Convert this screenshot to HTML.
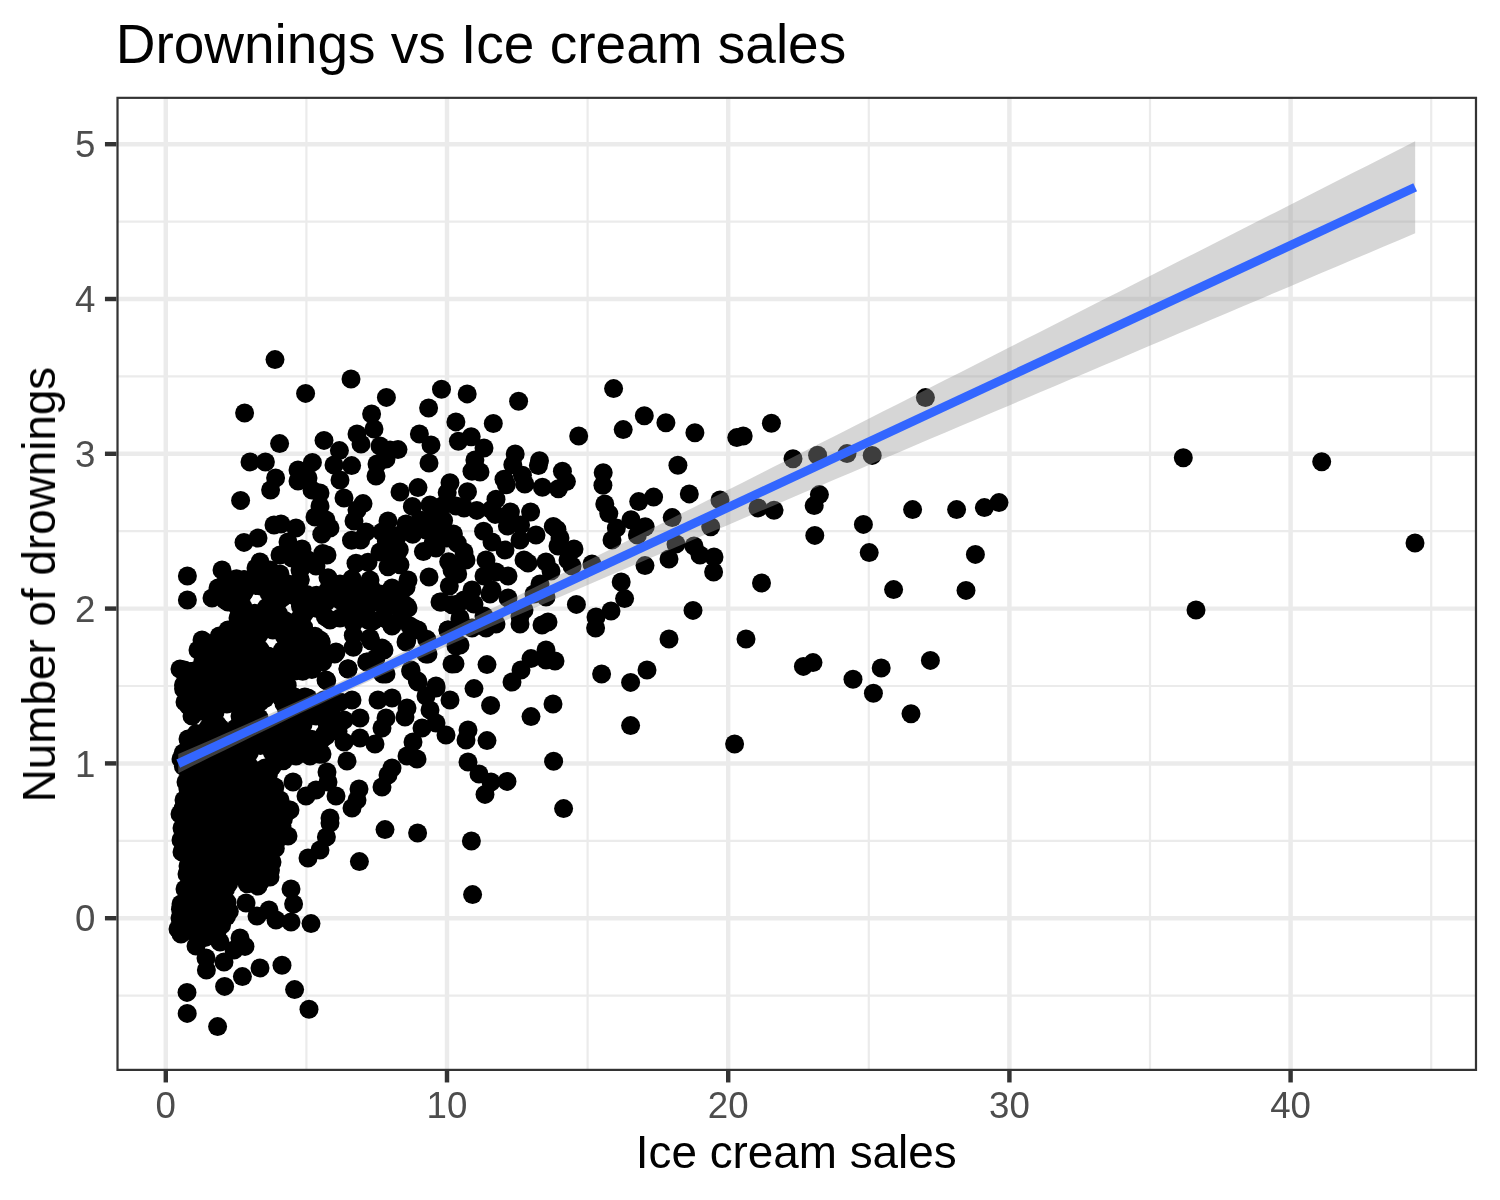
<!DOCTYPE html>
<html lang="en"><head><meta charset="utf-8"><title>Drownings vs Ice cream sales</title>
<style>html,body{margin:0;padding:0;background:#fff}body{width:1500px;height:1200px;overflow:hidden}svg{display:block}text{font-family:"Liberation Sans",Arial,Helvetica,sans-serif}</style></head><body>
<svg width="1500" height="1200" viewBox="0 0 1500 1200">
<rect width="1500" height="1200" fill="#fff"/>
<defs><clipPath id="p"><rect x="116.40" y="96.70" width="1360.70" height="974.30"/></clipPath></defs>
<g clip-path="url(#p)">
<g stroke="#ebebeb" stroke-width="2.2" fill="none">
<line x1="306.40" x2="306.40" y1="96.70" y2="1071.00"/>
<line x1="587.60" x2="587.60" y1="96.70" y2="1071.00"/>
<line x1="868.80" x2="868.80" y1="96.70" y2="1071.00"/>
<line x1="1150.00" x2="1150.00" y1="96.70" y2="1071.00"/>
<line x1="1431.20" x2="1431.20" y1="96.70" y2="1071.00"/>
<line x1="116.40" x2="1477.10" y1="995.60" y2="995.60"/>
<line x1="116.40" x2="1477.10" y1="840.80" y2="840.80"/>
<line x1="116.40" x2="1477.10" y1="686.00" y2="686.00"/>
<line x1="116.40" x2="1477.10" y1="531.20" y2="531.20"/>
<line x1="116.40" x2="1477.10" y1="376.40" y2="376.40"/>
<line x1="116.40" x2="1477.10" y1="221.60" y2="221.60"/>
</g>
<g stroke="#ebebeb" stroke-width="4.45" fill="none">
<line x1="165.80" x2="165.80" y1="96.70" y2="1071.00"/>
<line x1="447.00" x2="447.00" y1="96.70" y2="1071.00"/>
<line x1="728.20" x2="728.20" y1="96.70" y2="1071.00"/>
<line x1="1009.40" x2="1009.40" y1="96.70" y2="1071.00"/>
<line x1="1290.60" x2="1290.60" y1="96.70" y2="1071.00"/>
<line x1="116.40" x2="1477.10" y1="918.20" y2="918.20"/>
<line x1="116.40" x2="1477.10" y1="763.40" y2="763.40"/>
<line x1="116.40" x2="1477.10" y1="608.60" y2="608.60"/>
<line x1="116.40" x2="1477.10" y1="453.80" y2="453.80"/>
<line x1="116.40" x2="1477.10" y1="299.00" y2="299.00"/>
<line x1="116.40" x2="1477.10" y1="144.20" y2="144.20"/>
</g>
<g fill="#000">
<circle cx="1183.3" cy="457.7" r="9.50"/>
<circle cx="1321.7" cy="461.7" r="9.50"/>
<circle cx="1415.0" cy="543.0" r="9.50"/>
<circle cx="1196.0" cy="610.0" r="9.50"/>
<circle cx="925.4" cy="397.6" r="9.50"/>
<circle cx="771.4" cy="423.2" r="9.50"/>
<circle cx="793.0" cy="458.8" r="9.50"/>
<circle cx="817.6" cy="455.2" r="9.50"/>
<circle cx="847.0" cy="453.6" r="9.50"/>
<circle cx="872.2" cy="455.4" r="9.50"/>
<circle cx="819.4" cy="494.6" r="9.50"/>
<circle cx="814.2" cy="505.6" r="9.50"/>
<circle cx="774.0" cy="510.2" r="9.50"/>
<circle cx="758.0" cy="508.0" r="9.50"/>
<circle cx="912.6" cy="509.6" r="9.50"/>
<circle cx="956.6" cy="509.6" r="9.50"/>
<circle cx="984.4" cy="507.6" r="9.50"/>
<circle cx="999.0" cy="502.6" r="9.50"/>
<circle cx="863.4" cy="524.4" r="9.50"/>
<circle cx="814.8" cy="535.4" r="9.50"/>
<circle cx="869.2" cy="552.6" r="9.50"/>
<circle cx="975.4" cy="554.4" r="9.50"/>
<circle cx="761.5" cy="583.0" r="9.50"/>
<circle cx="893.6" cy="589.6" r="9.50"/>
<circle cx="966.0" cy="590.4" r="9.50"/>
<circle cx="803.4" cy="666.4" r="9.50"/>
<circle cx="813.0" cy="662.6" r="9.50"/>
<circle cx="853.0" cy="679.2" r="9.50"/>
<circle cx="881.2" cy="668.0" r="9.50"/>
<circle cx="930.4" cy="660.4" r="9.50"/>
<circle cx="873.4" cy="693.2" r="9.50"/>
<circle cx="911.0" cy="713.8" r="9.50"/>
<circle cx="613.6" cy="388.6" r="9.50"/>
<circle cx="644.3" cy="415.7" r="9.50"/>
<circle cx="623.2" cy="429.6" r="9.50"/>
<circle cx="665.9" cy="422.7" r="9.50"/>
<circle cx="578.7" cy="436.0" r="9.50"/>
<circle cx="694.9" cy="432.8" r="9.50"/>
<circle cx="736.8" cy="437.6" r="9.50"/>
<circle cx="743.2" cy="436.0" r="9.50"/>
<circle cx="677.9" cy="465.3" r="9.50"/>
<circle cx="603.2" cy="472.8" r="9.50"/>
<circle cx="602.9" cy="485.3" r="9.50"/>
<circle cx="562.4" cy="471.2" r="9.50"/>
<circle cx="566.4" cy="481.6" r="9.50"/>
<circle cx="558.4" cy="488.8" r="9.50"/>
<circle cx="689.3" cy="493.9" r="9.50"/>
<circle cx="653.6" cy="497.1" r="9.50"/>
<circle cx="638.7" cy="501.6" r="9.50"/>
<circle cx="720.0" cy="500.0" r="9.50"/>
<circle cx="604.8" cy="504.0" r="9.50"/>
<circle cx="608.8" cy="513.6" r="9.50"/>
<circle cx="631.0" cy="519.8" r="9.50"/>
<circle cx="672.2" cy="517.6" r="9.50"/>
<circle cx="616.4" cy="528.1" r="9.50"/>
<circle cx="645.2" cy="526.8" r="9.50"/>
<circle cx="710.7" cy="526.7" r="9.50"/>
<circle cx="637.4" cy="535.0" r="9.50"/>
<circle cx="557.0" cy="529.4" r="9.50"/>
<circle cx="441.5" cy="389.2" r="9.50"/>
<circle cx="467.2" cy="393.9" r="9.50"/>
<circle cx="518.6" cy="401.3" r="9.50"/>
<circle cx="455.9" cy="421.9" r="9.50"/>
<circle cx="493.3" cy="423.5" r="9.50"/>
<circle cx="471.2" cy="436.8" r="9.50"/>
<circle cx="458.4" cy="441.3" r="9.50"/>
<circle cx="484.0" cy="448.0" r="9.50"/>
<circle cx="474.9" cy="460.0" r="9.50"/>
<circle cx="472.0" cy="471.2" r="9.50"/>
<circle cx="480.0" cy="472.0" r="9.50"/>
<circle cx="515.2" cy="453.9" r="9.50"/>
<circle cx="512.8" cy="464.8" r="9.50"/>
<circle cx="539.5" cy="460.8" r="9.50"/>
<circle cx="538.4" cy="465.6" r="9.50"/>
<circle cx="542.4" cy="487.2" r="9.50"/>
<circle cx="522.4" cy="475.2" r="9.50"/>
<circle cx="524.8" cy="484.0" r="9.50"/>
<circle cx="504.0" cy="479.2" r="9.50"/>
<circle cx="506.4" cy="484.8" r="9.50"/>
<circle cx="450.0" cy="482.7" r="9.50"/>
<circle cx="467.5" cy="491.7" r="9.50"/>
<circle cx="496.0" cy="499.2" r="9.50"/>
<circle cx="447.2" cy="492.8" r="9.50"/>
<circle cx="443.4" cy="505.2" r="9.50"/>
<circle cx="464.0" cy="508.0" r="9.50"/>
<circle cx="476.8" cy="510.4" r="9.50"/>
<circle cx="491.2" cy="509.6" r="9.50"/>
<circle cx="495.2" cy="514.4" r="9.50"/>
<circle cx="510.4" cy="512.0" r="9.50"/>
<circle cx="530.6" cy="512.0" r="9.50"/>
<circle cx="507.4" cy="526.0" r="9.50"/>
<circle cx="520.6" cy="525.0" r="9.50"/>
<circle cx="553.3" cy="526.4" r="9.50"/>
<circle cx="483.6" cy="531.2" r="9.50"/>
<circle cx="443.6" cy="520.4" r="9.50"/>
<circle cx="536.0" cy="535.0" r="9.50"/>
<circle cx="453.4" cy="534.0" r="9.50"/>
<circle cx="275.0" cy="359.6" r="9.50"/>
<circle cx="351.0" cy="379.0" r="9.50"/>
<circle cx="305.6" cy="393.4" r="9.50"/>
<circle cx="244.6" cy="413.0" r="9.50"/>
<circle cx="386.4" cy="397.4" r="9.50"/>
<circle cx="428.6" cy="408.0" r="9.50"/>
<circle cx="371.6" cy="414.0" r="9.50"/>
<circle cx="374.0" cy="429.0" r="9.50"/>
<circle cx="357.0" cy="434.0" r="9.50"/>
<circle cx="361.0" cy="444.0" r="9.50"/>
<circle cx="324.0" cy="440.4" r="9.50"/>
<circle cx="279.6" cy="443.6" r="9.50"/>
<circle cx="339.4" cy="450.6" r="9.50"/>
<circle cx="419.4" cy="434.0" r="9.50"/>
<circle cx="431.0" cy="445.0" r="9.50"/>
<circle cx="380.0" cy="446.0" r="9.50"/>
<circle cx="390.0" cy="450.0" r="9.50"/>
<circle cx="398.0" cy="449.6" r="9.50"/>
<circle cx="429.0" cy="463.0" r="9.50"/>
<circle cx="377.0" cy="464.0" r="9.50"/>
<circle cx="386.0" cy="459.0" r="9.50"/>
<circle cx="376.0" cy="476.0" r="9.50"/>
<circle cx="351.6" cy="465.6" r="9.50"/>
<circle cx="334.0" cy="465.0" r="9.50"/>
<circle cx="340.0" cy="480.0" r="9.50"/>
<circle cx="312.4" cy="462.4" r="9.50"/>
<circle cx="298.0" cy="470.0" r="9.50"/>
<circle cx="308.0" cy="478.0" r="9.50"/>
<circle cx="298.0" cy="481.0" r="9.50"/>
<circle cx="250.0" cy="462.0" r="9.50"/>
<circle cx="265.4" cy="462.0" r="9.50"/>
<circle cx="275.6" cy="478.0" r="9.50"/>
<circle cx="270.6" cy="490.0" r="9.50"/>
<circle cx="240.6" cy="500.4" r="9.50"/>
<circle cx="312.0" cy="490.0" r="9.50"/>
<circle cx="320.0" cy="493.0" r="9.50"/>
<circle cx="344.0" cy="498.0" r="9.50"/>
<circle cx="363.0" cy="503.6" r="9.50"/>
<circle cx="357.0" cy="510.0" r="9.50"/>
<circle cx="320.0" cy="506.0" r="9.50"/>
<circle cx="315.0" cy="517.0" r="9.50"/>
<circle cx="326.0" cy="520.0" r="9.50"/>
<circle cx="330.0" cy="528.0" r="9.50"/>
<circle cx="321.8" cy="534.3" r="9.50"/>
<circle cx="354.0" cy="521.0" r="9.50"/>
<circle cx="366.0" cy="532.0" r="9.50"/>
<circle cx="351.5" cy="540.3" r="9.50"/>
<circle cx="360.7" cy="540.0" r="9.50"/>
<circle cx="400.0" cy="492.0" r="9.50"/>
<circle cx="418.0" cy="487.6" r="9.50"/>
<circle cx="412.4" cy="506.4" r="9.50"/>
<circle cx="430.0" cy="505.0" r="9.50"/>
<circle cx="456.0" cy="506.0" r="9.50"/>
<circle cx="388.0" cy="521.0" r="9.50"/>
<circle cx="406.0" cy="524.0" r="9.50"/>
<circle cx="420.0" cy="520.0" r="9.50"/>
<circle cx="434.0" cy="516.0" r="9.50"/>
<circle cx="426.0" cy="530.0" r="9.50"/>
<circle cx="412.7" cy="534.3" r="9.50"/>
<circle cx="398.0" cy="535.5" r="9.50"/>
<circle cx="382.0" cy="532.0" r="9.50"/>
<circle cx="440.0" cy="532.0" r="9.50"/>
<circle cx="386.3" cy="541.0" r="9.50"/>
<circle cx="399.3" cy="549.7" r="9.50"/>
<circle cx="380.0" cy="552.0" r="9.50"/>
<circle cx="423.4" cy="551.6" r="9.50"/>
<circle cx="436.0" cy="548.0" r="9.50"/>
<circle cx="448.7" cy="561.7" r="9.50"/>
<circle cx="396.0" cy="558.0" r="9.50"/>
<circle cx="388.0" cy="566.7" r="9.50"/>
<circle cx="356.0" cy="563.2" r="9.50"/>
<circle cx="368.0" cy="562.3" r="9.50"/>
<circle cx="274.0" cy="525.0" r="9.50"/>
<circle cx="281.0" cy="524.0" r="9.50"/>
<circle cx="296.0" cy="528.0" r="9.50"/>
<circle cx="258.0" cy="538.0" r="9.50"/>
<circle cx="244.0" cy="542.4" r="9.50"/>
<circle cx="288.0" cy="542.0" r="9.50"/>
<circle cx="302.0" cy="549.0" r="9.50"/>
<circle cx="280.0" cy="555.0" r="9.50"/>
<circle cx="292.0" cy="558.0" r="9.50"/>
<circle cx="308.0" cy="560.0" r="9.50"/>
<circle cx="322.7" cy="553.5" r="9.50"/>
<circle cx="327.0" cy="555.0" r="9.50"/>
<circle cx="260.0" cy="562.0" r="9.50"/>
<circle cx="256.0" cy="568.0" r="9.50"/>
<circle cx="270.0" cy="570.0" r="9.50"/>
<circle cx="222.0" cy="570.0" r="9.50"/>
<circle cx="187.4" cy="576.0" r="9.50"/>
<circle cx="244.0" cy="580.0" r="9.50"/>
<circle cx="280.0" cy="574.0" r="9.50"/>
<circle cx="300.0" cy="570.0" r="9.50"/>
<circle cx="316.0" cy="566.0" r="9.50"/>
<circle cx="328.0" cy="577.7" r="9.50"/>
<circle cx="352.0" cy="578.7" r="9.50"/>
<circle cx="429.0" cy="577.0" r="9.50"/>
<circle cx="452.0" cy="570.0" r="9.50"/>
<circle cx="370.0" cy="580.0" r="9.50"/>
<circle cx="408.0" cy="580.0" r="9.50"/>
<circle cx="300.0" cy="580.0" r="9.50"/>
<circle cx="385.0" cy="829.6" r="9.50"/>
<circle cx="417.6" cy="833.0" r="9.50"/>
<circle cx="359.4" cy="861.6" r="9.50"/>
<circle cx="330.0" cy="823.0" r="9.50"/>
<circle cx="326.4" cy="837.0" r="9.50"/>
<circle cx="320.0" cy="850.0" r="9.50"/>
<circle cx="308.0" cy="858.0" r="9.50"/>
<circle cx="288.0" cy="836.0" r="9.50"/>
<circle cx="291.0" cy="889.0" r="9.50"/>
<circle cx="293.6" cy="904.0" r="9.50"/>
<circle cx="311.0" cy="923.6" r="9.50"/>
<circle cx="291.0" cy="922.0" r="9.50"/>
<circle cx="276.0" cy="920.0" r="9.50"/>
<circle cx="269.0" cy="910.0" r="9.50"/>
<circle cx="257.0" cy="916.0" r="9.50"/>
<circle cx="246.0" cy="903.0" r="9.50"/>
<circle cx="258.0" cy="886.0" r="9.50"/>
<circle cx="270.0" cy="877.0" r="9.50"/>
<circle cx="272.0" cy="862.0" r="9.50"/>
<circle cx="268.0" cy="848.0" r="9.50"/>
<circle cx="282.0" cy="826.0" r="9.50"/>
<circle cx="240.0" cy="938.0" r="9.50"/>
<circle cx="245.0" cy="946.4" r="9.50"/>
<circle cx="234.0" cy="950.0" r="9.50"/>
<circle cx="220.0" cy="942.0" r="9.50"/>
<circle cx="196.0" cy="946.0" r="9.50"/>
<circle cx="206.0" cy="958.0" r="9.50"/>
<circle cx="224.0" cy="962.0" r="9.50"/>
<circle cx="206.4" cy="970.0" r="9.50"/>
<circle cx="260.0" cy="968.0" r="9.50"/>
<circle cx="282.0" cy="965.2" r="9.50"/>
<circle cx="242.4" cy="976.6" r="9.50"/>
<circle cx="224.6" cy="986.4" r="9.50"/>
<circle cx="294.6" cy="989.6" r="9.50"/>
<circle cx="309.0" cy="1009.2" r="9.50"/>
<circle cx="187.0" cy="992.4" r="9.50"/>
<circle cx="187.2" cy="1013.4" r="9.50"/>
<circle cx="217.6" cy="1026.6" r="9.50"/>
<circle cx="182.0" cy="828.0" r="9.50"/>
<circle cx="181.0" cy="840.0" r="9.50"/>
<circle cx="182.0" cy="852.0" r="9.50"/>
<circle cx="188.0" cy="866.0" r="9.50"/>
<circle cx="187.0" cy="874.0" r="9.50"/>
<circle cx="185.0" cy="889.0" r="9.50"/>
<circle cx="181.0" cy="904.0" r="9.50"/>
<circle cx="180.0" cy="918.0" r="9.50"/>
<circle cx="178.0" cy="929.0" r="9.50"/>
<circle cx="181.0" cy="934.0" r="9.50"/>
<circle cx="492.0" cy="542.0" r="9.50"/>
<circle cx="505.0" cy="550.0" r="9.50"/>
<circle cx="520.0" cy="540.0" r="9.50"/>
<circle cx="524.0" cy="560.0" r="9.50"/>
<circle cx="528.0" cy="563.0" r="9.50"/>
<circle cx="486.0" cy="560.0" r="9.50"/>
<circle cx="496.0" cy="572.0" r="9.50"/>
<circle cx="508.0" cy="576.0" r="9.50"/>
<circle cx="484.0" cy="576.0" r="9.50"/>
<circle cx="464.0" cy="552.0" r="9.50"/>
<circle cx="466.0" cy="560.0" r="9.50"/>
<circle cx="457.7" cy="574.0" r="9.50"/>
<circle cx="472.0" cy="590.0" r="9.50"/>
<circle cx="492.0" cy="590.0" r="9.50"/>
<circle cx="490.0" cy="594.0" r="9.50"/>
<circle cx="508.0" cy="598.0" r="9.50"/>
<circle cx="464.0" cy="600.0" r="9.50"/>
<circle cx="474.0" cy="604.0" r="9.50"/>
<circle cx="546.0" cy="562.0" r="9.50"/>
<circle cx="551.0" cy="571.0" r="9.50"/>
<circle cx="540.0" cy="584.0" r="9.50"/>
<circle cx="534.0" cy="594.0" r="9.50"/>
<circle cx="546.0" cy="597.0" r="9.50"/>
<circle cx="560.0" cy="538.0" r="9.50"/>
<circle cx="558.0" cy="546.0" r="9.50"/>
<circle cx="574.0" cy="549.0" r="9.50"/>
<circle cx="568.0" cy="560.0" r="9.50"/>
<circle cx="572.0" cy="566.0" r="9.50"/>
<circle cx="592.0" cy="564.0" r="9.50"/>
<circle cx="612.0" cy="540.0" r="9.50"/>
<circle cx="676.0" cy="544.0" r="9.50"/>
<circle cx="694.0" cy="546.0" r="9.50"/>
<circle cx="700.0" cy="555.0" r="9.50"/>
<circle cx="714.0" cy="557.0" r="9.50"/>
<circle cx="669.0" cy="559.0" r="9.50"/>
<circle cx="645.0" cy="565.6" r="9.50"/>
<circle cx="713.6" cy="572.0" r="9.50"/>
<circle cx="621.2" cy="582.0" r="9.50"/>
<circle cx="624.6" cy="598.6" r="9.50"/>
<circle cx="611.0" cy="611.0" r="9.50"/>
<circle cx="596.0" cy="617.0" r="9.50"/>
<circle cx="595.6" cy="628.0" r="9.50"/>
<circle cx="576.4" cy="604.4" r="9.50"/>
<circle cx="693.0" cy="610.4" r="9.50"/>
<circle cx="669.0" cy="639.0" r="9.50"/>
<circle cx="746.0" cy="639.0" r="9.50"/>
<circle cx="460.0" cy="618.0" r="9.50"/>
<circle cx="472.0" cy="628.0" r="9.50"/>
<circle cx="484.0" cy="616.0" r="9.50"/>
<circle cx="486.0" cy="628.0" r="9.50"/>
<circle cx="496.0" cy="624.0" r="9.50"/>
<circle cx="520.0" cy="616.0" r="9.50"/>
<circle cx="524.0" cy="610.0" r="9.50"/>
<circle cx="520.0" cy="624.0" r="9.50"/>
<circle cx="548.0" cy="622.0" r="9.50"/>
<circle cx="542.0" cy="625.0" r="9.50"/>
<circle cx="460.0" cy="645.0" r="9.50"/>
<circle cx="487.0" cy="664.6" r="9.50"/>
<circle cx="546.0" cy="650.0" r="9.50"/>
<circle cx="555.0" cy="661.0" r="9.50"/>
<circle cx="546.0" cy="660.0" r="9.50"/>
<circle cx="531.0" cy="658.6" r="9.50"/>
<circle cx="521.0" cy="670.0" r="9.50"/>
<circle cx="512.0" cy="682.0" r="9.50"/>
<circle cx="474.0" cy="688.6" r="9.50"/>
<circle cx="455.0" cy="663.7" r="9.50"/>
<circle cx="490.6" cy="705.4" r="9.50"/>
<circle cx="553.0" cy="704.0" r="9.50"/>
<circle cx="531.0" cy="716.6" r="9.50"/>
<circle cx="601.6" cy="674.0" r="9.50"/>
<circle cx="630.6" cy="682.4" r="9.50"/>
<circle cx="647.0" cy="670.0" r="9.50"/>
<circle cx="630.6" cy="725.6" r="9.50"/>
<circle cx="734.6" cy="744.0" r="9.50"/>
<circle cx="468.0" cy="730.0" r="9.50"/>
<circle cx="466.0" cy="740.0" r="9.50"/>
<circle cx="487.0" cy="740.6" r="9.50"/>
<circle cx="553.6" cy="761.2" r="9.50"/>
<circle cx="468.0" cy="762.0" r="9.50"/>
<circle cx="479.0" cy="774.0" r="9.50"/>
<circle cx="491.0" cy="782.0" r="9.50"/>
<circle cx="507.0" cy="781.4" r="9.50"/>
<circle cx="485.0" cy="794.4" r="9.50"/>
<circle cx="563.6" cy="808.6" r="9.50"/>
<circle cx="471.4" cy="841.0" r="9.50"/>
<circle cx="472.6" cy="894.6" r="9.50"/>
<circle cx="433.3" cy="542.0" r="9.50"/>
<circle cx="446.7" cy="538.0" r="9.50"/>
<circle cx="457.3" cy="543.3" r="9.50"/>
<circle cx="390.7" cy="554.0" r="9.50"/>
<circle cx="400.0" cy="564.7" r="9.50"/>
<circle cx="332.7" cy="586.0" r="9.50"/>
<circle cx="370.7" cy="587.3" r="9.50"/>
<circle cx="390.0" cy="591.3" r="9.50"/>
<circle cx="406.0" cy="587.3" r="9.50"/>
<circle cx="449.3" cy="586.0" r="9.50"/>
<circle cx="318.7" cy="599.3" r="9.50"/>
<circle cx="329.3" cy="598.0" r="9.50"/>
<circle cx="340.0" cy="599.3" r="9.50"/>
<circle cx="350.7" cy="599.3" r="9.50"/>
<circle cx="361.3" cy="599.3" r="9.50"/>
<circle cx="370.7" cy="602.0" r="9.50"/>
<circle cx="382.7" cy="604.7" r="9.50"/>
<circle cx="393.3" cy="604.7" r="9.50"/>
<circle cx="406.7" cy="606.0" r="9.50"/>
<circle cx="441.3" cy="602.0" r="9.50"/>
<circle cx="452.0" cy="604.7" r="9.50"/>
<circle cx="325.3" cy="616.7" r="9.50"/>
<circle cx="345.3" cy="615.3" r="9.50"/>
<circle cx="353.3" cy="623.3" r="9.50"/>
<circle cx="364.0" cy="616.7" r="9.50"/>
<circle cx="373.3" cy="620.7" r="9.50"/>
<circle cx="390.7" cy="623.3" r="9.50"/>
<circle cx="401.3" cy="618.0" r="9.50"/>
<circle cx="414.7" cy="628.7" r="9.50"/>
<circle cx="448.0" cy="630.0" r="9.50"/>
<circle cx="321.3" cy="642.0" r="9.50"/>
<circle cx="334.7" cy="654.0" r="9.50"/>
<circle cx="353.3" cy="647.3" r="9.50"/>
<circle cx="370.7" cy="640.7" r="9.50"/>
<circle cx="384.0" cy="650.0" r="9.50"/>
<circle cx="406.7" cy="640.7" r="9.50"/>
<circle cx="426.7" cy="639.3" r="9.50"/>
<circle cx="353.3" cy="635.3" r="9.50"/>
<circle cx="322.7" cy="662.0" r="9.50"/>
<circle cx="348.0" cy="668.7" r="9.50"/>
<circle cx="366.7" cy="662.0" r="9.50"/>
<circle cx="376.0" cy="658.0" r="9.50"/>
<circle cx="428.0" cy="654.0" r="9.50"/>
<circle cx="326.7" cy="680.7" r="9.50"/>
<circle cx="382.7" cy="674.0" r="9.50"/>
<circle cx="410.7" cy="671.3" r="9.50"/>
<circle cx="417.3" cy="680.7" r="9.50"/>
<circle cx="436.0" cy="686.0" r="9.50"/>
<circle cx="316.0" cy="714.9" r="9.50"/>
<circle cx="327.3" cy="724.7" r="9.50"/>
<circle cx="338.0" cy="731.3" r="9.50"/>
<circle cx="330.7" cy="711.3" r="9.50"/>
<circle cx="218.0" cy="588.0" r="9.50"/>
<circle cx="230.0" cy="584.0" r="9.50"/>
<circle cx="244.0" cy="592.0" r="9.50"/>
<circle cx="260.0" cy="586.0" r="9.50"/>
<circle cx="272.0" cy="590.0" r="9.50"/>
<circle cx="288.0" cy="584.0" r="9.50"/>
<circle cx="300.0" cy="592.0" r="9.50"/>
<circle cx="328.0" cy="590.0" r="9.50"/>
<circle cx="340.0" cy="584.0" r="9.50"/>
<circle cx="352.0" cy="592.0" r="9.50"/>
<circle cx="366.0" cy="586.0" r="9.50"/>
<circle cx="380.0" cy="594.0" r="9.50"/>
<circle cx="392.0" cy="588.0" r="9.50"/>
<circle cx="458.0" cy="604.0" r="9.50"/>
<circle cx="187.4" cy="600.0" r="9.50"/>
<circle cx="212.0" cy="598.0" r="9.50"/>
<circle cx="228.0" cy="602.0" r="9.50"/>
<circle cx="240.0" cy="606.0" r="9.50"/>
<circle cx="272.0" cy="602.0" r="9.50"/>
<circle cx="282.0" cy="598.0" r="9.50"/>
<circle cx="300.0" cy="602.0" r="9.50"/>
<circle cx="310.0" cy="602.0" r="9.50"/>
<circle cx="326.0" cy="602.0" r="9.50"/>
<circle cx="340.0" cy="600.0" r="9.50"/>
<circle cx="356.0" cy="604.0" r="9.50"/>
<circle cx="370.0" cy="604.0" r="9.50"/>
<circle cx="386.0" cy="604.0" r="9.50"/>
<circle cx="402.0" cy="602.0" r="9.50"/>
<circle cx="408.0" cy="608.0" r="9.50"/>
<circle cx="440.0" cy="602.0" r="9.50"/>
<circle cx="238.0" cy="618.0" r="9.50"/>
<circle cx="248.0" cy="620.0" r="9.50"/>
<circle cx="258.0" cy="616.0" r="9.50"/>
<circle cx="268.0" cy="620.0" r="9.50"/>
<circle cx="280.0" cy="620.0" r="9.50"/>
<circle cx="300.0" cy="618.0" r="9.50"/>
<circle cx="330.0" cy="620.0" r="9.50"/>
<circle cx="340.0" cy="618.0" r="9.50"/>
<circle cx="352.0" cy="620.0" r="9.50"/>
<circle cx="368.0" cy="620.0" r="9.50"/>
<circle cx="384.0" cy="618.0" r="9.50"/>
<circle cx="392.0" cy="626.0" r="9.50"/>
<circle cx="410.0" cy="626.0" r="9.50"/>
<circle cx="418.0" cy="630.0" r="9.50"/>
<circle cx="448.0" cy="630.0" r="9.50"/>
<circle cx="460.0" cy="620.0" r="9.50"/>
<circle cx="228.0" cy="630.0" r="9.50"/>
<circle cx="202.0" cy="640.0" r="9.50"/>
<circle cx="198.0" cy="650.0" r="9.50"/>
<circle cx="212.0" cy="644.0" r="9.50"/>
<circle cx="224.0" cy="642.0" r="9.50"/>
<circle cx="240.0" cy="636.0" r="9.50"/>
<circle cx="250.0" cy="640.0" r="9.50"/>
<circle cx="260.0" cy="632.0" r="9.50"/>
<circle cx="292.0" cy="634.0" r="9.50"/>
<circle cx="304.0" cy="638.0" r="9.50"/>
<circle cx="320.0" cy="640.0" r="9.50"/>
<circle cx="370.0" cy="638.0" r="9.50"/>
<circle cx="382.0" cy="648.0" r="9.50"/>
<circle cx="406.0" cy="642.0" r="9.50"/>
<circle cx="456.0" cy="646.0" r="9.50"/>
<circle cx="426.0" cy="654.0" r="9.50"/>
<circle cx="210.0" cy="656.0" r="9.50"/>
<circle cx="220.0" cy="660.0" r="9.50"/>
<circle cx="236.0" cy="656.0" r="9.50"/>
<circle cx="252.0" cy="656.0" r="9.50"/>
<circle cx="268.0" cy="656.0" r="9.50"/>
<circle cx="284.0" cy="654.0" r="9.50"/>
<circle cx="300.0" cy="656.0" r="9.50"/>
<circle cx="312.0" cy="660.0" r="9.50"/>
<circle cx="326.0" cy="656.0" r="9.50"/>
<circle cx="336.0" cy="652.0" r="9.50"/>
<circle cx="180.0" cy="669.0" r="9.50"/>
<circle cx="194.0" cy="671.0" r="9.50"/>
<circle cx="348.0" cy="669.0" r="9.50"/>
<circle cx="368.0" cy="662.0" r="9.50"/>
<circle cx="386.0" cy="674.0" r="9.50"/>
<circle cx="411.0" cy="670.0" r="9.50"/>
<circle cx="452.0" cy="664.0" r="9.50"/>
<circle cx="201.0" cy="674.0" r="9.50"/>
<circle cx="214.0" cy="674.0" r="9.50"/>
<circle cx="230.0" cy="674.0" r="9.50"/>
<circle cx="246.0" cy="674.0" r="9.50"/>
<circle cx="262.0" cy="674.0" r="9.50"/>
<circle cx="278.0" cy="674.0" r="9.50"/>
<circle cx="290.0" cy="670.0" r="9.50"/>
<circle cx="326.0" cy="680.0" r="9.50"/>
<circle cx="183.6" cy="689.0" r="9.50"/>
<circle cx="196.0" cy="688.0" r="9.50"/>
<circle cx="212.0" cy="688.0" r="9.50"/>
<circle cx="228.0" cy="688.0" r="9.50"/>
<circle cx="244.0" cy="688.0" r="9.50"/>
<circle cx="260.0" cy="688.0" r="9.50"/>
<circle cx="276.0" cy="688.0" r="9.50"/>
<circle cx="288.0" cy="692.0" r="9.50"/>
<circle cx="418.0" cy="682.0" r="9.50"/>
<circle cx="436.0" cy="688.0" r="9.50"/>
<circle cx="185.0" cy="702.0" r="9.50"/>
<circle cx="200.0" cy="702.0" r="9.50"/>
<circle cx="216.0" cy="702.0" r="9.50"/>
<circle cx="232.0" cy="702.0" r="9.50"/>
<circle cx="248.0" cy="702.0" r="9.50"/>
<circle cx="260.0" cy="702.0" r="9.50"/>
<circle cx="308.0" cy="698.0" r="9.50"/>
<circle cx="324.0" cy="700.0" r="9.50"/>
<circle cx="340.0" cy="702.0" r="9.50"/>
<circle cx="352.0" cy="700.0" r="9.50"/>
<circle cx="378.0" cy="700.0" r="9.50"/>
<circle cx="392.0" cy="698.0" r="9.50"/>
<circle cx="407.0" cy="708.0" r="9.50"/>
<circle cx="426.0" cy="696.0" r="9.50"/>
<circle cx="430.0" cy="710.0" r="9.50"/>
<circle cx="450.0" cy="700.0" r="9.50"/>
<circle cx="192.0" cy="716.0" r="9.50"/>
<circle cx="240.0" cy="716.0" r="9.50"/>
<circle cx="254.0" cy="716.0" r="9.50"/>
<circle cx="208.0" cy="728.0" r="9.50"/>
<circle cx="220.0" cy="728.0" r="9.50"/>
<circle cx="236.0" cy="728.0" r="9.50"/>
<circle cx="250.0" cy="728.0" r="9.50"/>
<circle cx="264.0" cy="728.0" r="9.50"/>
<circle cx="296.0" cy="724.0" r="9.50"/>
<circle cx="316.0" cy="716.0" r="9.50"/>
<circle cx="344.0" cy="720.0" r="9.50"/>
<circle cx="360.0" cy="718.0" r="9.50"/>
<circle cx="386.0" cy="718.0" r="9.50"/>
<circle cx="405.0" cy="717.0" r="9.50"/>
<circle cx="382.0" cy="728.0" r="9.50"/>
<circle cx="422.0" cy="728.0" r="9.50"/>
<circle cx="436.0" cy="723.0" r="9.50"/>
<circle cx="188.0" cy="739.0" r="9.50"/>
<circle cx="202.0" cy="740.0" r="9.50"/>
<circle cx="216.0" cy="740.0" r="9.50"/>
<circle cx="230.0" cy="740.0" r="9.50"/>
<circle cx="246.0" cy="740.0" r="9.50"/>
<circle cx="262.0" cy="740.0" r="9.50"/>
<circle cx="278.0" cy="740.0" r="9.50"/>
<circle cx="292.0" cy="738.0" r="9.50"/>
<circle cx="300.0" cy="744.0" r="9.50"/>
<circle cx="326.0" cy="736.0" r="9.50"/>
<circle cx="344.0" cy="742.0" r="9.50"/>
<circle cx="360.0" cy="738.0" r="9.50"/>
<circle cx="375.0" cy="744.0" r="9.50"/>
<circle cx="413.0" cy="742.0" r="9.50"/>
<circle cx="446.0" cy="735.0" r="9.50"/>
<circle cx="181.0" cy="759.0" r="9.50"/>
<circle cx="194.0" cy="754.0" r="9.50"/>
<circle cx="208.0" cy="754.0" r="9.50"/>
<circle cx="222.0" cy="756.0" r="9.50"/>
<circle cx="236.0" cy="754.0" r="9.50"/>
<circle cx="280.0" cy="756.0" r="9.50"/>
<circle cx="296.0" cy="756.0" r="9.50"/>
<circle cx="310.0" cy="756.0" r="9.50"/>
<circle cx="322.0" cy="754.0" r="9.50"/>
<circle cx="347.0" cy="761.0" r="9.50"/>
<circle cx="407.0" cy="756.0" r="9.50"/>
<circle cx="417.0" cy="759.0" r="9.50"/>
<circle cx="392.0" cy="768.0" r="9.50"/>
<circle cx="327.0" cy="772.0" r="9.50"/>
<circle cx="186.0" cy="782.0" r="9.50"/>
<circle cx="200.0" cy="780.0" r="9.50"/>
<circle cx="214.0" cy="780.0" r="9.50"/>
<circle cx="228.0" cy="780.0" r="9.50"/>
<circle cx="242.0" cy="780.0" r="9.50"/>
<circle cx="256.0" cy="780.0" r="9.50"/>
<circle cx="293.0" cy="782.0" r="9.50"/>
<circle cx="316.0" cy="790.0" r="9.50"/>
<circle cx="328.0" cy="782.0" r="9.50"/>
<circle cx="388.0" cy="775.0" r="9.50"/>
<circle cx="382.0" cy="787.0" r="9.50"/>
<circle cx="359.0" cy="789.0" r="9.50"/>
<circle cx="184.0" cy="800.0" r="9.50"/>
<circle cx="198.0" cy="796.0" r="9.50"/>
<circle cx="212.0" cy="796.0" r="9.50"/>
<circle cx="226.0" cy="796.0" r="9.50"/>
<circle cx="240.0" cy="796.0" r="9.50"/>
<circle cx="254.0" cy="796.0" r="9.50"/>
<circle cx="268.0" cy="796.0" r="9.50"/>
<circle cx="280.0" cy="800.0" r="9.50"/>
<circle cx="306.0" cy="796.0" r="9.50"/>
<circle cx="336.0" cy="796.0" r="9.50"/>
<circle cx="357.0" cy="800.0" r="9.50"/>
<circle cx="180.0" cy="814.0" r="9.50"/>
<circle cx="194.0" cy="812.0" r="9.50"/>
<circle cx="208.0" cy="812.0" r="9.50"/>
<circle cx="222.0" cy="812.0" r="9.50"/>
<circle cx="236.0" cy="812.0" r="9.50"/>
<circle cx="250.0" cy="812.0" r="9.50"/>
<circle cx="264.0" cy="812.0" r="9.50"/>
<circle cx="278.0" cy="812.0" r="9.50"/>
<circle cx="290.0" cy="810.0" r="9.50"/>
<circle cx="352.0" cy="808.0" r="9.50"/>
<circle cx="330.0" cy="818.0" r="9.50"/>
<circle cx="227.5" cy="579.0" r="9.50"/>
<circle cx="236.5" cy="578.7" r="9.50"/>
<circle cx="244.1" cy="579.6" r="9.50"/>
<circle cx="250.7" cy="580.0" r="9.50"/>
<circle cx="258.6" cy="579.8" r="9.50"/>
<circle cx="266.7" cy="578.8" r="9.50"/>
<circle cx="275.8" cy="581.0" r="9.50"/>
<circle cx="300.2" cy="579.7" r="9.50"/>
<circle cx="222.9" cy="585.8" r="9.50"/>
<circle cx="231.4" cy="587.9" r="9.50"/>
<circle cx="239.0" cy="587.2" r="9.50"/>
<circle cx="248.4" cy="586.5" r="9.50"/>
<circle cx="256.1" cy="585.6" r="9.50"/>
<circle cx="262.7" cy="586.0" r="9.50"/>
<circle cx="272.5" cy="586.7" r="9.50"/>
<circle cx="279.4" cy="587.2" r="9.50"/>
<circle cx="287.9" cy="586.3" r="9.50"/>
<circle cx="296.9" cy="587.5" r="9.50"/>
<circle cx="220.7" cy="593.2" r="9.50"/>
<circle cx="229.4" cy="592.7" r="9.50"/>
<circle cx="235.8" cy="594.6" r="9.50"/>
<circle cx="243.0" cy="593.8" r="9.50"/>
<circle cx="269.1" cy="593.3" r="9.50"/>
<circle cx="276.6" cy="594.1" r="9.50"/>
<circle cx="284.2" cy="593.7" r="9.50"/>
<circle cx="293.0" cy="595.2" r="9.50"/>
<circle cx="299.9" cy="594.3" r="9.50"/>
<circle cx="306.7" cy="594.5" r="9.50"/>
<circle cx="316.4" cy="595.3" r="9.50"/>
<circle cx="225.0" cy="600.1" r="9.50"/>
<circle cx="231.7" cy="601.3" r="9.50"/>
<circle cx="238.6" cy="600.7" r="9.50"/>
<circle cx="271.7" cy="601.9" r="9.50"/>
<circle cx="278.7" cy="600.6" r="9.50"/>
<circle cx="303.3" cy="600.5" r="9.50"/>
<circle cx="311.6" cy="601.9" r="9.50"/>
<circle cx="237.4" cy="606.7" r="9.50"/>
<circle cx="243.0" cy="606.9" r="9.50"/>
<circle cx="266.5" cy="607.5" r="9.50"/>
<circle cx="275.6" cy="607.9" r="9.50"/>
<circle cx="300.5" cy="606.4" r="9.50"/>
<circle cx="309.2" cy="608.6" r="9.50"/>
<circle cx="317.1" cy="608.6" r="9.50"/>
<circle cx="239.7" cy="614.3" r="9.50"/>
<circle cx="246.8" cy="615.0" r="9.50"/>
<circle cx="254.7" cy="613.3" r="9.50"/>
<circle cx="263.1" cy="613.6" r="9.50"/>
<circle cx="271.5" cy="613.3" r="9.50"/>
<circle cx="278.5" cy="613.6" r="9.50"/>
<circle cx="304.3" cy="613.6" r="9.50"/>
<circle cx="243.6" cy="620.4" r="9.50"/>
<circle cx="253.0" cy="623.0" r="9.50"/>
<circle cx="259.9" cy="621.5" r="9.50"/>
<circle cx="266.8" cy="620.4" r="9.50"/>
<circle cx="275.5" cy="620.9" r="9.50"/>
<circle cx="285.0" cy="620.6" r="9.50"/>
<circle cx="290.6" cy="622.9" r="9.50"/>
<circle cx="300.1" cy="620.5" r="9.50"/>
<circle cx="233.1" cy="629.1" r="9.50"/>
<circle cx="239.3" cy="628.1" r="9.50"/>
<circle cx="247.0" cy="629.3" r="9.50"/>
<circle cx="256.1" cy="629.3" r="9.50"/>
<circle cx="263.5" cy="627.7" r="9.50"/>
<circle cx="272.9" cy="630.0" r="9.50"/>
<circle cx="281.1" cy="629.4" r="9.50"/>
<circle cx="289.0" cy="629.2" r="9.50"/>
<circle cx="295.2" cy="628.5" r="9.50"/>
<circle cx="303.6" cy="627.1" r="9.50"/>
<circle cx="219.3" cy="636.0" r="9.50"/>
<circle cx="229.4" cy="635.3" r="9.50"/>
<circle cx="237.3" cy="636.9" r="9.50"/>
<circle cx="245.4" cy="635.0" r="9.50"/>
<circle cx="251.2" cy="634.6" r="9.50"/>
<circle cx="259.1" cy="634.5" r="9.50"/>
<circle cx="284.5" cy="636.3" r="9.50"/>
<circle cx="290.8" cy="635.9" r="9.50"/>
<circle cx="301.2" cy="636.3" r="9.50"/>
<circle cx="308.8" cy="635.4" r="9.50"/>
<circle cx="315.0" cy="636.3" r="9.50"/>
<circle cx="207.5" cy="643.3" r="9.50"/>
<circle cx="217.4" cy="642.0" r="9.50"/>
<circle cx="223.7" cy="643.7" r="9.50"/>
<circle cx="232.7" cy="641.4" r="9.50"/>
<circle cx="238.9" cy="641.3" r="9.50"/>
<circle cx="249.2" cy="643.3" r="9.50"/>
<circle cx="254.9" cy="643.3" r="9.50"/>
<circle cx="289.4" cy="642.8" r="9.50"/>
<circle cx="296.1" cy="643.7" r="9.50"/>
<circle cx="303.8" cy="643.5" r="9.50"/>
<circle cx="313.0" cy="641.5" r="9.50"/>
<circle cx="203.3" cy="648.7" r="9.50"/>
<circle cx="211.2" cy="649.5" r="9.50"/>
<circle cx="219.3" cy="649.0" r="9.50"/>
<circle cx="226.9" cy="650.5" r="9.50"/>
<circle cx="235.6" cy="649.2" r="9.50"/>
<circle cx="244.3" cy="650.5" r="9.50"/>
<circle cx="251.8" cy="650.5" r="9.50"/>
<circle cx="260.0" cy="649.4" r="9.50"/>
<circle cx="282.5" cy="650.2" r="9.50"/>
<circle cx="291.0" cy="649.2" r="9.50"/>
<circle cx="300.7" cy="649.4" r="9.50"/>
<circle cx="307.5" cy="649.3" r="9.50"/>
<circle cx="316.2" cy="650.1" r="9.50"/>
<circle cx="206.8" cy="656.4" r="9.50"/>
<circle cx="215.2" cy="655.5" r="9.50"/>
<circle cx="224.8" cy="656.2" r="9.50"/>
<circle cx="232.2" cy="657.0" r="9.50"/>
<circle cx="241.2" cy="656.0" r="9.50"/>
<circle cx="248.3" cy="656.2" r="9.50"/>
<circle cx="256.0" cy="656.8" r="9.50"/>
<circle cx="263.9" cy="656.3" r="9.50"/>
<circle cx="271.9" cy="657.5" r="9.50"/>
<circle cx="280.6" cy="657.3" r="9.50"/>
<circle cx="289.3" cy="655.5" r="9.50"/>
<circle cx="296.2" cy="657.5" r="9.50"/>
<circle cx="305.0" cy="655.1" r="9.50"/>
<circle cx="310.9" cy="656.0" r="9.50"/>
<circle cx="202.7" cy="662.4" r="9.50"/>
<circle cx="210.7" cy="663.6" r="9.50"/>
<circle cx="220.9" cy="664.3" r="9.50"/>
<circle cx="227.0" cy="663.8" r="9.50"/>
<circle cx="236.5" cy="662.1" r="9.50"/>
<circle cx="245.1" cy="664.5" r="9.50"/>
<circle cx="251.2" cy="664.5" r="9.50"/>
<circle cx="259.7" cy="663.1" r="9.50"/>
<circle cx="269.5" cy="664.1" r="9.50"/>
<circle cx="275.0" cy="662.9" r="9.50"/>
<circle cx="284.0" cy="662.7" r="9.50"/>
<circle cx="291.1" cy="662.6" r="9.50"/>
<circle cx="300.7" cy="661.7" r="9.50"/>
<circle cx="308.2" cy="663.0" r="9.50"/>
<circle cx="314.6" cy="662.6" r="9.50"/>
<circle cx="184.4" cy="670.1" r="9.50"/>
<circle cx="190.7" cy="671.5" r="9.50"/>
<circle cx="200.9" cy="671.5" r="9.50"/>
<circle cx="206.8" cy="669.4" r="9.50"/>
<circle cx="214.6" cy="670.9" r="9.50"/>
<circle cx="223.3" cy="669.0" r="9.50"/>
<circle cx="231.8" cy="671.3" r="9.50"/>
<circle cx="241.0" cy="669.3" r="9.50"/>
<circle cx="246.9" cy="671.3" r="9.50"/>
<circle cx="256.2" cy="670.7" r="9.50"/>
<circle cx="262.8" cy="668.7" r="9.50"/>
<circle cx="272.6" cy="669.8" r="9.50"/>
<circle cx="278.7" cy="671.4" r="9.50"/>
<circle cx="288.4" cy="671.0" r="9.50"/>
<circle cx="294.8" cy="671.1" r="9.50"/>
<circle cx="302.7" cy="671.2" r="9.50"/>
<circle cx="311.9" cy="669.6" r="9.50"/>
<circle cx="188.2" cy="678.3" r="9.50"/>
<circle cx="195.3" cy="675.9" r="9.50"/>
<circle cx="204.1" cy="676.2" r="9.50"/>
<circle cx="210.8" cy="676.0" r="9.50"/>
<circle cx="218.7" cy="676.1" r="9.50"/>
<circle cx="227.4" cy="676.4" r="9.50"/>
<circle cx="236.8" cy="676.4" r="9.50"/>
<circle cx="244.0" cy="676.0" r="9.50"/>
<circle cx="251.5" cy="675.5" r="9.50"/>
<circle cx="259.3" cy="675.5" r="9.50"/>
<circle cx="268.7" cy="677.1" r="9.50"/>
<circle cx="275.1" cy="676.9" r="9.50"/>
<circle cx="285.3" cy="675.8" r="9.50"/>
<circle cx="183.5" cy="684.9" r="9.50"/>
<circle cx="192.6" cy="684.3" r="9.50"/>
<circle cx="199.7" cy="683.5" r="9.50"/>
<circle cx="206.7" cy="682.8" r="9.50"/>
<circle cx="214.7" cy="684.6" r="9.50"/>
<circle cx="223.3" cy="682.9" r="9.50"/>
<circle cx="230.8" cy="684.9" r="9.50"/>
<circle cx="241.1" cy="684.4" r="9.50"/>
<circle cx="247.3" cy="683.1" r="9.50"/>
<circle cx="255.4" cy="683.8" r="9.50"/>
<circle cx="263.0" cy="683.8" r="9.50"/>
<circle cx="271.3" cy="685.3" r="9.50"/>
<circle cx="281.4" cy="684.1" r="9.50"/>
<circle cx="287.2" cy="685.3" r="9.50"/>
<circle cx="187.1" cy="690.9" r="9.50"/>
<circle cx="194.5" cy="690.1" r="9.50"/>
<circle cx="202.8" cy="690.5" r="9.50"/>
<circle cx="210.6" cy="689.4" r="9.50"/>
<circle cx="219.4" cy="690.0" r="9.50"/>
<circle cx="228.3" cy="690.9" r="9.50"/>
<circle cx="236.8" cy="691.3" r="9.50"/>
<circle cx="244.6" cy="692.0" r="9.50"/>
<circle cx="251.7" cy="690.3" r="9.50"/>
<circle cx="261.5" cy="689.8" r="9.50"/>
<circle cx="268.7" cy="691.3" r="9.50"/>
<circle cx="274.6" cy="691.9" r="9.50"/>
<circle cx="285.2" cy="691.2" r="9.50"/>
<circle cx="192.9" cy="698.8" r="9.50"/>
<circle cx="200.3" cy="699.0" r="9.50"/>
<circle cx="208.5" cy="698.4" r="9.50"/>
<circle cx="215.2" cy="696.4" r="9.50"/>
<circle cx="222.9" cy="697.4" r="9.50"/>
<circle cx="230.8" cy="698.8" r="9.50"/>
<circle cx="240.2" cy="698.2" r="9.50"/>
<circle cx="248.4" cy="698.3" r="9.50"/>
<circle cx="256.0" cy="696.3" r="9.50"/>
<circle cx="264.9" cy="698.5" r="9.50"/>
<circle cx="280.5" cy="696.5" r="9.50"/>
<circle cx="288.7" cy="697.0" r="9.50"/>
<circle cx="294.7" cy="697.1" r="9.50"/>
<circle cx="304.7" cy="696.9" r="9.50"/>
<circle cx="188.7" cy="706.1" r="9.50"/>
<circle cx="196.0" cy="704.4" r="9.50"/>
<circle cx="203.9" cy="705.3" r="9.50"/>
<circle cx="212.8" cy="705.1" r="9.50"/>
<circle cx="220.4" cy="703.4" r="9.50"/>
<circle cx="226.9" cy="704.0" r="9.50"/>
<circle cx="236.7" cy="704.1" r="9.50"/>
<circle cx="244.2" cy="703.2" r="9.50"/>
<circle cx="250.7" cy="704.0" r="9.50"/>
<circle cx="283.9" cy="703.6" r="9.50"/>
<circle cx="293.2" cy="703.8" r="9.50"/>
<circle cx="301.4" cy="706.0" r="9.50"/>
<circle cx="306.6" cy="704.6" r="9.50"/>
<circle cx="193.0" cy="713.0" r="9.50"/>
<circle cx="199.8" cy="710.9" r="9.50"/>
<circle cx="207.1" cy="713.0" r="9.50"/>
<circle cx="215.1" cy="711.9" r="9.50"/>
<circle cx="241.0" cy="711.7" r="9.50"/>
<circle cx="249.2" cy="712.2" r="9.50"/>
<circle cx="255.2" cy="712.8" r="9.50"/>
<circle cx="286.9" cy="711.2" r="9.50"/>
<circle cx="295.4" cy="712.7" r="9.50"/>
<circle cx="302.5" cy="712.4" r="9.50"/>
<circle cx="313.0" cy="710.5" r="9.50"/>
<circle cx="211.6" cy="718.2" r="9.50"/>
<circle cx="242.8" cy="719.6" r="9.50"/>
<circle cx="251.4" cy="719.9" r="9.50"/>
<circle cx="259.2" cy="717.9" r="9.50"/>
<circle cx="285.2" cy="719.5" r="9.50"/>
<circle cx="292.4" cy="719.8" r="9.50"/>
<circle cx="301.3" cy="718.7" r="9.50"/>
<circle cx="217.3" cy="724.4" r="9.50"/>
<circle cx="241.4" cy="724.8" r="9.50"/>
<circle cx="248.5" cy="724.9" r="9.50"/>
<circle cx="256.2" cy="725.2" r="9.50"/>
<circle cx="263.0" cy="724.5" r="9.50"/>
<circle cx="271.1" cy="726.7" r="9.50"/>
<circle cx="280.0" cy="724.6" r="9.50"/>
<circle cx="289.2" cy="727.0" r="9.50"/>
<circle cx="295.8" cy="724.4" r="9.50"/>
<circle cx="303.1" cy="724.3" r="9.50"/>
<circle cx="196.2" cy="733.6" r="9.50"/>
<circle cx="204.7" cy="732.2" r="9.50"/>
<circle cx="211.7" cy="732.5" r="9.50"/>
<circle cx="219.6" cy="731.9" r="9.50"/>
<circle cx="226.7" cy="731.7" r="9.50"/>
<circle cx="237.4" cy="731.3" r="9.50"/>
<circle cx="244.0" cy="732.8" r="9.50"/>
<circle cx="253.1" cy="731.6" r="9.50"/>
<circle cx="259.3" cy="731.7" r="9.50"/>
<circle cx="267.7" cy="732.3" r="9.50"/>
<circle cx="277.4" cy="733.5" r="9.50"/>
<circle cx="285.1" cy="731.0" r="9.50"/>
<circle cx="290.6" cy="733.0" r="9.50"/>
<circle cx="301.2" cy="732.3" r="9.50"/>
<circle cx="325.0" cy="733.5" r="9.50"/>
<circle cx="193.4" cy="738.6" r="9.50"/>
<circle cx="198.8" cy="738.3" r="9.50"/>
<circle cx="208.1" cy="739.9" r="9.50"/>
<circle cx="217.3" cy="740.0" r="9.50"/>
<circle cx="224.4" cy="740.1" r="9.50"/>
<circle cx="231.9" cy="739.5" r="9.50"/>
<circle cx="238.6" cy="740.2" r="9.50"/>
<circle cx="247.2" cy="740.6" r="9.50"/>
<circle cx="256.4" cy="738.8" r="9.50"/>
<circle cx="262.9" cy="738.6" r="9.50"/>
<circle cx="272.4" cy="739.9" r="9.50"/>
<circle cx="278.8" cy="738.1" r="9.50"/>
<circle cx="288.1" cy="739.6" r="9.50"/>
<circle cx="295.7" cy="738.5" r="9.50"/>
<circle cx="304.3" cy="737.9" r="9.50"/>
<circle cx="311.4" cy="739.2" r="9.50"/>
<circle cx="321.4" cy="739.8" r="9.50"/>
<circle cx="189.2" cy="746.2" r="9.50"/>
<circle cx="195.2" cy="745.5" r="9.50"/>
<circle cx="205.4" cy="746.9" r="9.50"/>
<circle cx="211.4" cy="744.8" r="9.50"/>
<circle cx="220.0" cy="746.8" r="9.50"/>
<circle cx="227.8" cy="745.5" r="9.50"/>
<circle cx="236.5" cy="747.5" r="9.50"/>
<circle cx="243.2" cy="744.9" r="9.50"/>
<circle cx="251.5" cy="746.0" r="9.50"/>
<circle cx="260.5" cy="745.4" r="9.50"/>
<circle cx="268.9" cy="747.0" r="9.50"/>
<circle cx="276.0" cy="745.4" r="9.50"/>
<circle cx="285.4" cy="745.7" r="9.50"/>
<circle cx="293.0" cy="745.5" r="9.50"/>
<circle cx="299.2" cy="747.1" r="9.50"/>
<circle cx="307.4" cy="747.6" r="9.50"/>
<circle cx="316.0" cy="745.3" r="9.50"/>
<circle cx="183.2" cy="753.0" r="9.50"/>
<circle cx="192.5" cy="754.5" r="9.50"/>
<circle cx="198.9" cy="752.9" r="9.50"/>
<circle cx="207.1" cy="754.6" r="9.50"/>
<circle cx="214.9" cy="751.9" r="9.50"/>
<circle cx="222.7" cy="752.9" r="9.50"/>
<circle cx="233.2" cy="754.4" r="9.50"/>
<circle cx="240.7" cy="754.7" r="9.50"/>
<circle cx="249.3" cy="752.7" r="9.50"/>
<circle cx="272.5" cy="752.8" r="9.50"/>
<circle cx="279.6" cy="752.7" r="9.50"/>
<circle cx="287.0" cy="751.7" r="9.50"/>
<circle cx="295.3" cy="752.8" r="9.50"/>
<circle cx="305.4" cy="752.1" r="9.50"/>
<circle cx="313.4" cy="752.3" r="9.50"/>
<circle cx="319.6" cy="754.2" r="9.50"/>
<circle cx="189.0" cy="759.9" r="9.50"/>
<circle cx="194.6" cy="760.0" r="9.50"/>
<circle cx="203.6" cy="761.4" r="9.50"/>
<circle cx="211.1" cy="759.7" r="9.50"/>
<circle cx="221.2" cy="758.7" r="9.50"/>
<circle cx="227.7" cy="761.1" r="9.50"/>
<circle cx="236.8" cy="758.7" r="9.50"/>
<circle cx="242.6" cy="758.8" r="9.50"/>
<circle cx="277.4" cy="760.5" r="9.50"/>
<circle cx="283.3" cy="760.8" r="9.50"/>
<circle cx="183.4" cy="766.4" r="9.50"/>
<circle cx="190.5" cy="767.8" r="9.50"/>
<circle cx="201.2" cy="767.5" r="9.50"/>
<circle cx="209.3" cy="765.6" r="9.50"/>
<circle cx="215.2" cy="767.0" r="9.50"/>
<circle cx="225.4" cy="768.4" r="9.50"/>
<circle cx="231.7" cy="766.3" r="9.50"/>
<circle cx="239.8" cy="767.0" r="9.50"/>
<circle cx="249.3" cy="766.1" r="9.50"/>
<circle cx="265.0" cy="767.9" r="9.50"/>
<circle cx="272.3" cy="766.5" r="9.50"/>
<circle cx="188.8" cy="772.7" r="9.50"/>
<circle cx="195.1" cy="774.7" r="9.50"/>
<circle cx="203.2" cy="772.7" r="9.50"/>
<circle cx="210.6" cy="774.1" r="9.50"/>
<circle cx="219.5" cy="775.4" r="9.50"/>
<circle cx="229.2" cy="775.4" r="9.50"/>
<circle cx="235.3" cy="772.7" r="9.50"/>
<circle cx="242.8" cy="774.0" r="9.50"/>
<circle cx="252.6" cy="773.8" r="9.50"/>
<circle cx="259.2" cy="773.7" r="9.50"/>
<circle cx="268.4" cy="774.5" r="9.50"/>
<circle cx="192.5" cy="779.8" r="9.50"/>
<circle cx="201.0" cy="780.3" r="9.50"/>
<circle cx="208.2" cy="780.5" r="9.50"/>
<circle cx="216.7" cy="780.0" r="9.50"/>
<circle cx="223.2" cy="780.1" r="9.50"/>
<circle cx="231.0" cy="782.1" r="9.50"/>
<circle cx="240.2" cy="780.4" r="9.50"/>
<circle cx="247.7" cy="782.4" r="9.50"/>
<circle cx="256.0" cy="780.1" r="9.50"/>
<circle cx="264.9" cy="781.4" r="9.50"/>
<circle cx="187.9" cy="788.8" r="9.50"/>
<circle cx="197.0" cy="789.1" r="9.50"/>
<circle cx="202.6" cy="787.2" r="9.50"/>
<circle cx="210.9" cy="786.9" r="9.50"/>
<circle cx="221.4" cy="788.1" r="9.50"/>
<circle cx="229.3" cy="787.5" r="9.50"/>
<circle cx="237.1" cy="787.7" r="9.50"/>
<circle cx="243.3" cy="788.7" r="9.50"/>
<circle cx="253.3" cy="786.7" r="9.50"/>
<circle cx="260.3" cy="788.2" r="9.50"/>
<circle cx="267.2" cy="787.4" r="9.50"/>
<circle cx="274.9" cy="787.0" r="9.50"/>
<circle cx="191.3" cy="795.1" r="9.50"/>
<circle cx="200.5" cy="793.9" r="9.50"/>
<circle cx="206.5" cy="794.2" r="9.50"/>
<circle cx="216.5" cy="793.8" r="9.50"/>
<circle cx="223.4" cy="793.9" r="9.50"/>
<circle cx="232.9" cy="794.9" r="9.50"/>
<circle cx="238.7" cy="793.6" r="9.50"/>
<circle cx="247.7" cy="794.9" r="9.50"/>
<circle cx="256.4" cy="793.5" r="9.50"/>
<circle cx="263.0" cy="795.4" r="9.50"/>
<circle cx="271.7" cy="794.1" r="9.50"/>
<circle cx="187.4" cy="803.1" r="9.50"/>
<circle cx="195.4" cy="801.9" r="9.50"/>
<circle cx="203.6" cy="801.4" r="9.50"/>
<circle cx="213.1" cy="803.2" r="9.50"/>
<circle cx="219.6" cy="800.8" r="9.50"/>
<circle cx="228.7" cy="800.8" r="9.50"/>
<circle cx="234.5" cy="802.9" r="9.50"/>
<circle cx="243.8" cy="802.7" r="9.50"/>
<circle cx="251.7" cy="802.8" r="9.50"/>
<circle cx="259.9" cy="800.7" r="9.50"/>
<circle cx="266.5" cy="801.9" r="9.50"/>
<circle cx="276.4" cy="802.9" r="9.50"/>
<circle cx="182.8" cy="809.0" r="9.50"/>
<circle cx="191.6" cy="808.6" r="9.50"/>
<circle cx="198.9" cy="808.0" r="9.50"/>
<circle cx="208.1" cy="809.9" r="9.50"/>
<circle cx="214.8" cy="808.6" r="9.50"/>
<circle cx="224.9" cy="810.0" r="9.50"/>
<circle cx="231.1" cy="807.5" r="9.50"/>
<circle cx="241.3" cy="810.1" r="9.50"/>
<circle cx="247.9" cy="807.3" r="9.50"/>
<circle cx="257.3" cy="808.3" r="9.50"/>
<circle cx="265.2" cy="809.0" r="9.50"/>
<circle cx="273.0" cy="807.6" r="9.50"/>
<circle cx="280.9" cy="807.8" r="9.50"/>
<circle cx="287.7" cy="809.7" r="9.50"/>
<circle cx="189.0" cy="814.6" r="9.50"/>
<circle cx="195.2" cy="815.3" r="9.50"/>
<circle cx="204.1" cy="815.2" r="9.50"/>
<circle cx="210.9" cy="814.8" r="9.50"/>
<circle cx="220.7" cy="816.7" r="9.50"/>
<circle cx="226.6" cy="815.7" r="9.50"/>
<circle cx="236.8" cy="814.2" r="9.50"/>
<circle cx="245.0" cy="814.4" r="9.50"/>
<circle cx="252.3" cy="815.7" r="9.50"/>
<circle cx="260.4" cy="815.0" r="9.50"/>
<circle cx="267.8" cy="815.8" r="9.50"/>
<circle cx="275.8" cy="816.0" r="9.50"/>
<circle cx="283.8" cy="815.4" r="9.50"/>
<circle cx="184.6" cy="820.4" r="9.50"/>
<circle cx="194.0" cy="819.2" r="9.50"/>
<circle cx="202.8" cy="820.8" r="9.50"/>
<circle cx="209.9" cy="819.0" r="9.50"/>
<circle cx="217.9" cy="818.8" r="9.50"/>
<circle cx="224.9" cy="819.8" r="9.50"/>
<circle cx="232.8" cy="819.8" r="9.50"/>
<circle cx="242.0" cy="818.6" r="9.50"/>
<circle cx="250.4" cy="818.7" r="9.50"/>
<circle cx="258.7" cy="820.8" r="9.50"/>
<circle cx="266.0" cy="818.7" r="9.50"/>
<circle cx="274.0" cy="819.6" r="9.50"/>
<circle cx="283.4" cy="818.9" r="9.50"/>
<circle cx="183.1" cy="828.4" r="9.50"/>
<circle cx="190.7" cy="827.9" r="9.50"/>
<circle cx="197.1" cy="828.4" r="9.50"/>
<circle cx="206.0" cy="828.3" r="9.50"/>
<circle cx="215.2" cy="825.9" r="9.50"/>
<circle cx="222.9" cy="828.2" r="9.50"/>
<circle cx="228.7" cy="826.5" r="9.50"/>
<circle cx="238.8" cy="825.9" r="9.50"/>
<circle cx="247.2" cy="826.3" r="9.50"/>
<circle cx="254.9" cy="825.9" r="9.50"/>
<circle cx="262.0" cy="828.2" r="9.50"/>
<circle cx="269.1" cy="826.2" r="9.50"/>
<circle cx="278.0" cy="826.4" r="9.50"/>
<circle cx="184.6" cy="832.9" r="9.50"/>
<circle cx="193.0" cy="835.2" r="9.50"/>
<circle cx="202.5" cy="835.0" r="9.50"/>
<circle cx="209.0" cy="834.7" r="9.50"/>
<circle cx="216.8" cy="833.9" r="9.50"/>
<circle cx="226.4" cy="833.4" r="9.50"/>
<circle cx="235.1" cy="834.0" r="9.50"/>
<circle cx="242.2" cy="835.0" r="9.50"/>
<circle cx="248.8" cy="835.3" r="9.50"/>
<circle cx="258.4" cy="833.5" r="9.50"/>
<circle cx="266.9" cy="833.2" r="9.50"/>
<circle cx="275.5" cy="834.1" r="9.50"/>
<circle cx="281.6" cy="834.6" r="9.50"/>
<circle cx="181.8" cy="839.8" r="9.50"/>
<circle cx="190.7" cy="839.4" r="9.50"/>
<circle cx="199.0" cy="840.0" r="9.50"/>
<circle cx="206.4" cy="842.2" r="9.50"/>
<circle cx="214.3" cy="841.3" r="9.50"/>
<circle cx="221.4" cy="839.3" r="9.50"/>
<circle cx="228.6" cy="839.7" r="9.50"/>
<circle cx="238.3" cy="840.6" r="9.50"/>
<circle cx="246.0" cy="842.0" r="9.50"/>
<circle cx="252.9" cy="840.0" r="9.50"/>
<circle cx="262.5" cy="839.4" r="9.50"/>
<circle cx="268.5" cy="840.3" r="9.50"/>
<circle cx="276.8" cy="840.4" r="9.50"/>
<circle cx="185.2" cy="848.0" r="9.50"/>
<circle cx="194.3" cy="846.8" r="9.50"/>
<circle cx="202.4" cy="847.6" r="9.50"/>
<circle cx="208.9" cy="849.0" r="9.50"/>
<circle cx="217.2" cy="846.7" r="9.50"/>
<circle cx="224.8" cy="848.1" r="9.50"/>
<circle cx="235.1" cy="848.6" r="9.50"/>
<circle cx="241.7" cy="847.0" r="9.50"/>
<circle cx="248.5" cy="848.1" r="9.50"/>
<circle cx="258.2" cy="847.3" r="9.50"/>
<circle cx="266.4" cy="847.5" r="9.50"/>
<circle cx="275.3" cy="848.4" r="9.50"/>
<circle cx="189.2" cy="855.9" r="9.50"/>
<circle cx="196.6" cy="854.7" r="9.50"/>
<circle cx="205.7" cy="853.9" r="9.50"/>
<circle cx="212.7" cy="855.5" r="9.50"/>
<circle cx="220.5" cy="854.8" r="9.50"/>
<circle cx="231.3" cy="853.6" r="9.50"/>
<circle cx="237.1" cy="855.0" r="9.50"/>
<circle cx="246.0" cy="855.1" r="9.50"/>
<circle cx="254.9" cy="853.7" r="9.50"/>
<circle cx="261.4" cy="854.0" r="9.50"/>
<circle cx="268.6" cy="855.8" r="9.50"/>
<circle cx="194.8" cy="862.2" r="9.50"/>
<circle cx="200.5" cy="862.6" r="9.50"/>
<circle cx="210.7" cy="861.5" r="9.50"/>
<circle cx="218.7" cy="861.4" r="9.50"/>
<circle cx="225.2" cy="860.4" r="9.50"/>
<circle cx="233.2" cy="860.2" r="9.50"/>
<circle cx="241.5" cy="862.3" r="9.50"/>
<circle cx="250.6" cy="862.6" r="9.50"/>
<circle cx="258.6" cy="860.9" r="9.50"/>
<circle cx="266.2" cy="861.4" r="9.50"/>
<circle cx="190.9" cy="868.6" r="9.50"/>
<circle cx="197.3" cy="868.9" r="9.50"/>
<circle cx="207.4" cy="867.6" r="9.50"/>
<circle cx="215.1" cy="867.0" r="9.50"/>
<circle cx="221.3" cy="867.7" r="9.50"/>
<circle cx="230.7" cy="869.8" r="9.50"/>
<circle cx="238.7" cy="868.0" r="9.50"/>
<circle cx="247.1" cy="868.0" r="9.50"/>
<circle cx="253.2" cy="869.7" r="9.50"/>
<circle cx="262.4" cy="869.1" r="9.50"/>
<circle cx="270.5" cy="869.9" r="9.50"/>
<circle cx="193.9" cy="876.4" r="9.50"/>
<circle cx="202.6" cy="876.5" r="9.50"/>
<circle cx="209.8" cy="876.1" r="9.50"/>
<circle cx="218.2" cy="874.8" r="9.50"/>
<circle cx="225.1" cy="875.8" r="9.50"/>
<circle cx="232.7" cy="876.7" r="9.50"/>
<circle cx="240.9" cy="874.0" r="9.50"/>
<circle cx="248.8" cy="876.7" r="9.50"/>
<circle cx="257.5" cy="874.3" r="9.50"/>
<circle cx="264.6" cy="874.0" r="9.50"/>
<circle cx="190.6" cy="882.8" r="9.50"/>
<circle cx="198.6" cy="883.1" r="9.50"/>
<circle cx="204.7" cy="882.6" r="9.50"/>
<circle cx="213.6" cy="883.3" r="9.50"/>
<circle cx="223.0" cy="883.5" r="9.50"/>
<circle cx="228.7" cy="883.5" r="9.50"/>
<circle cx="247.2" cy="883.7" r="9.50"/>
<circle cx="252.8" cy="881.5" r="9.50"/>
<circle cx="260.8" cy="881.0" r="9.50"/>
<circle cx="187.0" cy="890.2" r="9.50"/>
<circle cx="194.4" cy="890.3" r="9.50"/>
<circle cx="202.4" cy="888.6" r="9.50"/>
<circle cx="208.8" cy="888.1" r="9.50"/>
<circle cx="218.8" cy="888.4" r="9.50"/>
<circle cx="225.5" cy="889.1" r="9.50"/>
<circle cx="188.6" cy="895.5" r="9.50"/>
<circle cx="197.3" cy="896.9" r="9.50"/>
<circle cx="205.6" cy="895.7" r="9.50"/>
<circle cx="215.4" cy="896.2" r="9.50"/>
<circle cx="223.1" cy="896.6" r="9.50"/>
<circle cx="184.6" cy="902.9" r="9.50"/>
<circle cx="193.8" cy="904.0" r="9.50"/>
<circle cx="201.5" cy="903.7" r="9.50"/>
<circle cx="210.1" cy="902.3" r="9.50"/>
<circle cx="219.1" cy="901.9" r="9.50"/>
<circle cx="227.0" cy="902.1" r="9.50"/>
<circle cx="180.5" cy="909.2" r="9.50"/>
<circle cx="190.8" cy="911.5" r="9.50"/>
<circle cx="196.5" cy="910.0" r="9.50"/>
<circle cx="206.0" cy="911.0" r="9.50"/>
<circle cx="213.1" cy="910.0" r="9.50"/>
<circle cx="221.5" cy="911.1" r="9.50"/>
<circle cx="229.3" cy="911.4" r="9.50"/>
<circle cx="185.4" cy="916.1" r="9.50"/>
<circle cx="194.6" cy="917.0" r="9.50"/>
<circle cx="200.8" cy="917.4" r="9.50"/>
<circle cx="208.7" cy="917.9" r="9.50"/>
<circle cx="218.6" cy="917.9" r="9.50"/>
<circle cx="226.4" cy="916.6" r="9.50"/>
<circle cx="181.7" cy="923.6" r="9.50"/>
<circle cx="191.2" cy="922.7" r="9.50"/>
<circle cx="199.2" cy="922.5" r="9.50"/>
<circle cx="205.1" cy="923.2" r="9.50"/>
<circle cx="215.2" cy="923.9" r="9.50"/>
<circle cx="221.6" cy="925.1" r="9.50"/>
<circle cx="185.2" cy="930.7" r="9.50"/>
<circle cx="194.1" cy="931.6" r="9.50"/>
<circle cx="202.8" cy="931.3" r="9.50"/>
<circle cx="209.5" cy="930.3" r="9.50"/>
<circle cx="217.0" cy="931.9" r="9.50"/>
<circle cx="198.5" cy="938.5" r="9.50"/>
<circle cx="205.0" cy="937.6" r="9.50"/>
</g>
<polygon points="178.26,754.05 193.91,747.24 209.57,740.41 225.23,733.55 240.89,726.66 256.54,719.73 272.20,712.75 287.86,705.73 303.51,698.64 319.17,691.50 334.83,684.29 350.49,677.01 366.14,669.66 381.80,662.24 397.46,654.75 413.11,647.21 428.77,639.62 444.43,631.97 460.09,624.29 475.74,616.57 491.40,608.83 507.06,601.05 522.71,593.26 538.37,585.44 554.03,577.61 569.69,569.77 585.34,561.91 601.00,554.04 616.66,546.17 632.31,538.29 647.97,530.40 663.63,522.50 679.29,514.60 694.94,506.69 710.60,498.78 726.26,490.87 741.91,482.95 757.57,475.03 773.23,467.10 788.89,459.18 804.54,451.25 820.20,443.32 835.86,435.39 851.51,427.45 867.17,419.52 882.83,411.58 898.49,403.64 914.14,395.70 929.80,387.76 945.46,379.82 961.11,371.88 976.77,363.93 992.43,355.99 1008.09,348.04 1023.74,340.09 1039.40,332.15 1055.06,324.20 1070.71,316.25 1086.37,308.30 1102.03,300.35 1117.69,292.40 1133.34,284.45 1149.00,276.50 1164.66,268.55 1180.31,260.60 1195.97,252.65 1211.63,244.70 1227.29,236.74 1242.94,228.79 1258.60,220.84 1274.26,212.88 1289.91,204.93 1305.57,196.98 1321.23,189.02 1336.89,181.07 1352.54,173.11 1368.20,165.16 1383.86,157.20 1399.51,149.25 1415.17,141.29 1415.17,233.30 1399.51,239.94 1383.86,246.57 1368.20,253.21 1352.54,259.84 1336.89,266.48 1321.23,273.11 1305.57,279.75 1289.91,286.38 1274.26,293.02 1258.60,299.66 1242.94,306.29 1227.29,312.93 1211.63,319.57 1195.97,326.20 1180.31,332.84 1164.66,339.48 1149.00,346.12 1133.34,352.76 1117.69,359.40 1102.03,366.04 1086.37,372.68 1070.71,379.32 1055.06,385.96 1039.40,392.60 1023.74,399.25 1008.09,405.89 992.43,412.54 976.77,419.18 961.11,425.83 945.46,432.47 929.80,439.12 914.14,445.77 898.49,452.42 882.83,459.07 867.17,465.73 851.51,472.38 835.86,479.04 820.20,485.69 804.54,492.35 788.89,499.02 773.23,505.68 757.57,512.35 741.91,519.01 726.26,525.69 710.60,532.36 694.94,539.04 679.29,545.72 663.63,552.41 647.97,559.11 632.31,565.81 616.66,572.51 601.00,579.23 585.34,585.95 569.69,592.69 554.03,599.43 538.37,606.19 522.71,612.97 507.06,619.76 491.40,626.58 475.74,633.42 460.09,640.29 444.43,647.20 428.77,654.15 413.11,661.14 397.46,668.19 381.80,675.30 366.14,682.47 350.49,689.71 334.83,697.02 319.17,704.39 303.51,711.84 287.86,719.35 272.20,726.91 256.54,734.52 240.89,742.18 225.23,749.88 209.57,757.61 193.91,765.37 178.26,773.15" fill="#999999" fill-opacity="0.4"/>
<line x1="178.26" y1="763.60" x2="1415.17" y2="187.30" stroke="#3366ff" stroke-width="8.9"/>
<rect x="116.40" y="96.70" width="1360.70" height="974.30" fill="none" stroke="#333" stroke-width="4.45"/>
</g>
<g stroke="#333" stroke-width="4.45">
<line x1="165.80" x2="165.80" y1="1071.00" y2="1082.46"/>
<line x1="447.00" x2="447.00" y1="1071.00" y2="1082.46"/>
<line x1="728.20" x2="728.20" y1="1071.00" y2="1082.46"/>
<line x1="1009.40" x2="1009.40" y1="1071.00" y2="1082.46"/>
<line x1="1290.60" x2="1290.60" y1="1071.00" y2="1082.46"/>
<line x1="104.94" x2="116.40" y1="918.20" y2="918.20"/>
<line x1="104.94" x2="116.40" y1="763.40" y2="763.40"/>
<line x1="104.94" x2="116.40" y1="608.60" y2="608.60"/>
<line x1="104.94" x2="116.40" y1="453.80" y2="453.80"/>
<line x1="104.94" x2="116.40" y1="299.00" y2="299.00"/>
<line x1="104.94" x2="116.40" y1="144.20" y2="144.20"/>
</g>
<g opacity="0.999">
<g fill="#4d4d4d" font-size="36.67">
<text x="165.80" y="1117.90" text-anchor="middle">0</text>
<text x="447.00" y="1117.90" text-anchor="middle">10</text>
<text x="728.20" y="1117.90" text-anchor="middle">20</text>
<text x="1009.40" y="1117.90" text-anchor="middle">30</text>
<text x="1290.60" y="1117.90" text-anchor="middle">40</text>
<text x="95.30" y="931.30" text-anchor="end">0</text>
<text x="95.30" y="776.50" text-anchor="end">1</text>
<text x="95.30" y="621.70" text-anchor="end">2</text>
<text x="95.30" y="466.90" text-anchor="end">3</text>
<text x="95.30" y="312.10" text-anchor="end">4</text>
<text x="95.30" y="157.30" text-anchor="end">5</text>
</g>
<text x="796.25" y="1168" font-size="45.83" text-anchor="middle" fill="#000">Ice cream sales</text>
<text transform="translate(55,584.55) rotate(-90)" font-size="45.83" text-anchor="middle" fill="#000">Number of drownings</text>
<text x="115.7" y="63" font-size="55" fill="#000">Drownings vs Ice cream sales</text>
</g>
</svg></body></html>
